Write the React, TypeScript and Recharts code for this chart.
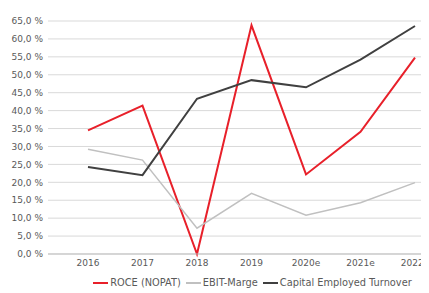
import React from 'react';
import { LineChart, Line, XAxis, YAxis, CartesianGrid, Legend } from 'recharts';

const years = ['2016', '2017', '2018', '2019', '2020e', '2021e', '2022e'];
const roce = [34.5, 41.4, 0, 63.8, 22.2, 34.1, 54.8];
const ebitMarge = [29.2, 26.2, 7.2, 16.9, 10.8, 14.3, 19.9];
const capTurnover = [24.3, 22.0, 43.3, 48.5, 46.5, 54.2, 63.6];
const yTicks = [0, 5, 10, 15, 20, 25, 30, 35, 40, 45, 50, 55, 60, 65];

const series = [
  { key: 'roce', name: 'ROCE (NOPAT)', color: '#e8202a', width: 2 },
  { key: 'ebit', name: 'EBIT-Marge', color: '#c0c0c0', width: 1.5 },
  { key: 'cet', name: 'Capital Employed Turnover', color: '#404040', width: 2 },
];

const data = years.map((y, i) => ({
  year: y,
  roce: roce[i],
  ebit: ebitMarge[i],
  cet: capTurnover[i],
}));

const FONT = '"DejaVu Sans", sans-serif';
const fmt = (v: number) => v.toFixed(1).replace('.', ',') + ' %';

const LegendContent = () => (
  <div style={{ boxSizing: 'border-box', width: 429, height: 21, paddingTop: 5, paddingLeft: 76, display: 'flex', justifyContent: 'center', alignItems: 'flex-start', fontFamily: FONT, fontSize: 9.8, lineHeight: '12px', color: '#595959', whiteSpace: 'nowrap' }}>
    {series.map((s, i) => (
      <span key={s.key} style={{ display: 'inline-flex', alignItems: 'center', height: 12, marginRight: i < series.length - 1 ? 5 : 0 }}>
        <span style={{ display: 'inline-block', width: 15, height: s.width, background: s.color, marginRight: 2 }} />
        {s.name}
      </span>
    ))}
  </div>
);

export default function App() {
  return (
    <div style={{ margin: '-8px -8px 0 -8px', width: 429, height: 293, background: '#fff', fontFamily: FONT, overflow: 'hidden' }}>
      <LineChart width={429} height={293} data={data} margin={{ top: 21, right: 0, left: 0, bottom: 0 }}>
        <CartesianGrid vertical={false} stroke="#d9d9d9" strokeWidth={1} />
        <XAxis
          dataKey="year"
          padding={{ left: 40, right: 14 }}
          tickSize={0}
          tickMargin={6}
          height={18}
          interval={0}
          axisLine={{ stroke: '#bfbfbf' }}
          tick={{ fill: '#595959', fontSize: 9, fontFamily: FONT }}
        />
        <YAxis
          domain={[0, 65]}
          ticks={yTicks}
          interval={0}
          tickFormatter={fmt}
          width={48}
          tickSize={0}
          tickMargin={5}
          axisLine={false}
          tick={{ fill: '#595959', fontSize: 9, fontFamily: FONT }}
        />
        <Legend
          content={<LegendContent />}
          wrapperStyle={{ left: 0 }}
        />
        {series.map((s) => (
          <Line
            key={s.key}
            dataKey={s.key}
            name={s.name}
            stroke={s.color}
            strokeWidth={s.width}
            dot={false}
            isAnimationActive={false}
          />
        ))}
      </LineChart>
    </div>
  );
}
